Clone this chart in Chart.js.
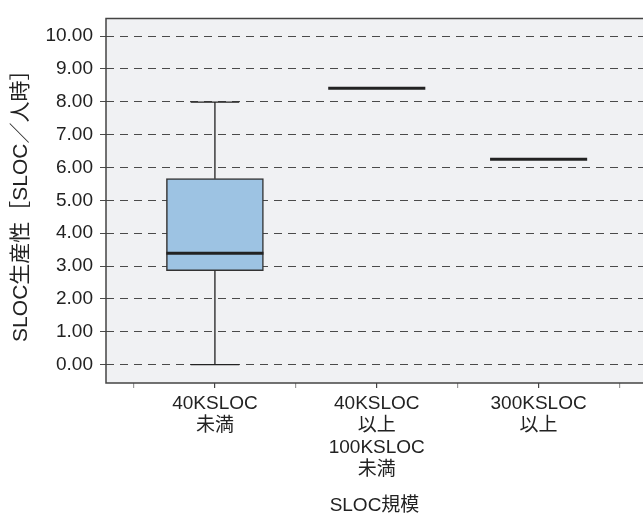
<!DOCTYPE html>
<html>
<head>
<meta charset="utf-8">
<script src="https://cdn.jsdelivr.net/npm/chart.js@4.4.1/dist/chart.umd.min.js"></script>
<style>
  html, body { margin: 0; padding: 0; background: #ffffff; }
  #wrap { width: 643px; height: 515px; position: relative; }
</style>
</head>
<body>
<div id="wrap"><canvas id="c" width="643" height="515"></canvas></div>
<script>
// ---- data ----
const categories = [
  ['40KSLOC', '未満'],
  ['40KSLOC', '以上', '100KSLOC', '未満'],
  ['300KSLOC', '以上']
];
const positions = [1, 2, 3];
const whiskerMin = [0.00, 8.41, 6.25];
const quartile1  = [2.86, 8.41, 6.25];
const medians    = [3.39, 8.41, 6.25];
const quartile3  = [5.66, 8.41, 6.25];
const whiskerMax = [7.99, 8.41, 6.25];
const yTicks = [0, 1, 2, 3, 4, 5, 6, 7, 8, 9, 10];
const xTicks = [0.5, 1, 1.5, 2, 2.5, 3, 3.5];
const yTitle = 'SLOC生産性［SLOC／人時］';
const xTitle = 'SLOC規模';

const FONT = "'Liberation Sans', Arial, 'Noto Sans CJK JP', sans-serif";
const BOX_W = 0.6;   // in x units
const CAP_W = 0.3;

const boxData = positions
  .map((p, i) => ({ x: p, y: [quartile1[i], quartile3[i]], show: quartile1[i] !== quartile3[i] }))
  .filter(d => d.show)
  .map(d => ({ x: d.x, y: d.y }));

const boxPlugin = {
  id: 'boxPlugin',
  beforeDraw(chart) {
    const { ctx, chartArea: a } = chart;
    ctx.save();
    ctx.fillStyle = '#f0f1f3';
    ctx.fillRect(a.left, a.top, a.right - a.left, a.bottom - a.top);
    ctx.restore();
  },
  afterDatasetsDraw(chart) {
    const { ctx } = chart;
    const xs = chart.scales.x, ys = chart.scales.y;
    ctx.save();
    ctx.strokeStyle = '#222';
    positions.forEach((p, i) => {
      const cx = xs.getPixelForValue(p);
      const capL = xs.getPixelForValue(p - CAP_W / 2), capR = xs.getPixelForValue(p + CAP_W / 2);
      const bL = xs.getPixelForValue(p - BOX_W / 2), bR = xs.getPixelForValue(p + BOX_W / 2);
      ctx.lineWidth = 1.3;
      if (whiskerMin[i] < quartile1[i]) {
        ctx.beginPath();
        ctx.moveTo(cx, ys.getPixelForValue(quartile1[i]));
        ctx.lineTo(cx, ys.getPixelForValue(whiskerMin[i]));
        ctx.moveTo(capL, ys.getPixelForValue(whiskerMin[i]));
        ctx.lineTo(capR, ys.getPixelForValue(whiskerMin[i]));
        ctx.stroke();
      }
      if (whiskerMax[i] > quartile3[i]) {
        ctx.beginPath();
        ctx.moveTo(cx, ys.getPixelForValue(quartile3[i]));
        ctx.lineTo(cx, ys.getPixelForValue(whiskerMax[i]));
        ctx.moveTo(capL, ys.getPixelForValue(whiskerMax[i]));
        ctx.lineTo(capR, ys.getPixelForValue(whiskerMax[i]));
        ctx.stroke();
      }
      ctx.lineWidth = 3;
      ctx.beginPath();
      ctx.moveTo(bL, ys.getPixelForValue(medians[i]));
      ctx.lineTo(bR, ys.getPixelForValue(medians[i]));
      ctx.stroke();
    });
    ctx.restore();
  },
  afterDraw(chart) {
    const { ctx, chartArea: a } = chart;
    ctx.save();
    ctx.strokeStyle = '#444';
    ctx.lineWidth = 1.5;
    ctx.beginPath();
    ctx.moveTo(a.right + 2, a.top);
    ctx.lineTo(a.left, a.top);
    ctx.lineTo(a.left, a.bottom);
    ctx.lineTo(a.right + 2, a.bottom);
    ctx.stroke();
    ctx.restore();
  }
};

Chart.defaults.font.family = FONT;
Chart.defaults.color = '#222';

new Chart(document.getElementById('c'), {
  type: 'bar',
  data: {
    datasets: [{
      data: boxData,
      backgroundColor: '#9dc3e3',
      borderColor: '#333',
      borderWidth: 1.5,
      borderSkipped: false,
      barThickness: 97
    }]
  },
  options: {
    responsive: false,
    animation: false,
    devicePixelRatio: 1,
    layout: { padding: { top: 13, right: 0, left: 0, bottom: 0 } },
    plugins: { legend: { display: false }, tooltip: { enabled: false } },
    scales: {
      x: {
        type: 'linear',
        offset: false,
        min: 0.327,
        max: 3.645,
        afterBuildTicks(s) { s.ticks = xTicks.map(v => ({ value: v })); },
        afterFit(s) { s.height = 132; },
        grid: {
          drawOnChartArea: false,
          drawTicks: true,
          tickLength: 5,
          offset: false,
          color: (c) => (c.tick && Number.isInteger(c.tick.value)) ? '#444' : '#999',
          lineWidth: 1.2
        },
        border: { display: false },
        ticks: {
          autoSkip: false,
          maxRotation: 0,
          padding: 5,
          font: { size: 19, lineHeight: 1.16 },
          color: '#222',
          callback: (v) => {
            const i = positions.indexOf(v);
            return i >= 0 ? categories[i] : '';
          }
        },
        title: {
          display: true,
          text: xTitle,
          font: { size: 19, lineHeight: 1.0 },
          color: '#222',
          padding: { top: 4, bottom: 0 }
        }
      },
      y: {
        min: -0.56,
        max: 10.54,
        afterBuildTicks(s) { s.ticks = yTicks.map(v => ({ value: v })); },
        afterFit(s) { s.width = 106; },
        grid: {
          color: '#4a4a4a',
          lineWidth: 1,
          drawTicks: true,
          tickLength: 6
        },
        border: { display: false, dash: [8, 6] },
        ticks: {
          padding: 7,
          font: { size: 19 },
          color: '#222',
          callback: (v) => Number(v).toFixed(2)
        },
        title: {
          display: true,
          text: yTitle,
          font: { size: 21, lineHeight: 1.2 },
          color: '#222',
          padding: { top: 9, bottom: 0 }
        }
      }
    }
  },
  plugins: [boxPlugin]
});
</script>
</body>
</html>
